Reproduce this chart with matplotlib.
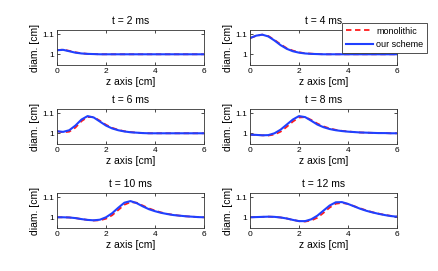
import matplotlib
matplotlib.use('Agg')
import matplotlib.pyplot as plt
import numpy as np

plt.rcParams['font.family'] = ['Liberation Sans', 'DejaVu Sans']

z = np.arange(25) * 0.25

times = [2, 4, 6, 8, 10, 12]

# our scheme (blue)
ours_2 = [1.020, 1.022, 1.015, 1.008, 1.004, 1.002, 1.001, 1.000, 1.000, 1.000, 1.000, 1.000, 1.000,
          1.000, 1.000, 1.000, 1.000, 1.000, 1.000, 1.000, 1.000, 1.000, 1.000, 1.000, 1.000]
ours_4 = [1.080, 1.092, 1.097, 1.088, 1.068, 1.045, 1.027, 1.015, 1.008, 1.004, 1.002, 1.001, 1.000,
          1.000, 1.000, 1.000, 1.000, 1.000, 1.000, 1.000, 1.000, 1.000, 1.000, 1.000, 1.000]
ours_6 = [1.010, 1.007, 1.015, 1.038, 1.068, 1.085, 1.078, 1.058, 1.038, 1.024, 1.015, 1.009, 1.005,
          1.003, 1.001, 1.000, 1.000, 1.000, 1.000, 1.000, 1.000, 1.000, 1.000, 1.000, 1.000]
ours_8 = [0.993, 0.992, 0.990, 0.991, 1.000, 1.018, 1.043, 1.068, 1.085, 1.080, 1.062, 1.043, 1.030,
          1.021, 1.015, 1.011, 1.008, 1.006, 1.004, 1.003, 1.002, 1.001, 1.001, 1.000, 1.000]
ours_10 = [1.000, 1.000, 0.999, 0.996, 0.991, 0.987, 0.985, 0.988, 1.000, 1.020, 1.047, 1.072, 1.080,
           1.070, 1.054, 1.040, 1.030, 1.022, 1.016, 1.011, 1.008, 1.005, 1.003, 1.001, 1.000]
ours_12 = [1.000, 1.001, 1.002, 1.003, 1.002, 0.999, 0.994, 0.987, 0.981, 0.981, 0.990, 1.008, 1.033,
           1.058, 1.074, 1.075, 1.066, 1.054, 1.042, 1.032, 1.024, 1.017, 1.011, 1.006, 1.003]

# monolithic (red dashed)
mono_2 = [1.020, 1.023, 1.017, 1.010, 1.005, 1.002, 1.001, 1.000, 1.000, 1.000, 1.000, 1.000, 1.000,
          1.000, 1.000, 1.000, 1.000, 1.000, 1.000, 1.000, 1.000, 1.000, 1.000, 1.000, 1.000]
mono_4 = [1.080, 1.091, 1.097, 1.090, 1.071, 1.049, 1.030, 1.018, 1.010, 1.005, 1.003, 1.001, 1.000,
          1.000, 1.000, 1.000, 1.000, 1.000, 1.000, 1.000, 1.000, 1.000, 1.000, 1.000, 1.000]
mono_6 = [1.010, 1.005, 1.008, 1.028, 1.060, 1.080, 1.080, 1.062, 1.042, 1.027, 1.017, 1.010, 1.006,
          1.003, 1.001, 1.000, 1.000, 1.000, 1.000, 1.000, 1.000, 1.000, 1.000, 1.000, 1.000]
mono_8 = [0.993, 0.992, 0.990, 0.989, 0.994, 1.008, 1.032, 1.058, 1.078, 1.080, 1.066, 1.048, 1.034,
          1.024, 1.017, 1.012, 1.009, 1.006, 1.004, 1.003, 1.002, 1.001, 1.001, 1.000, 1.000]
mono_10 = [1.000, 1.000, 0.999, 0.996, 0.991, 0.987, 0.984, 0.985, 0.993, 1.010, 1.036, 1.062, 1.075,
           1.072, 1.058, 1.044, 1.033, 1.024, 1.017, 1.012, 1.008, 1.005, 1.003, 1.001, 1.000]
mono_12 = [1.000, 1.001, 1.002, 1.003, 1.002, 0.999, 0.994, 0.987, 0.981, 0.979, 0.984, 0.998, 1.022,
           1.048, 1.067, 1.071, 1.066, 1.055, 1.044, 1.034, 1.025, 1.018, 1.012, 1.007, 1.003]

ours = [ours_2, ours_4, ours_6, ours_8, ours_10, ours_12]
mono = [mono_2, mono_4, mono_6, mono_8, mono_10, mono_12]

fig = plt.figure(figsize=(4.38, 2.71), dpi=100)

W, H = 438., 271.
lefts = [57, 250]
bottoms = [65, 144, 228]
aw, ah = 147, 35

for i, t in enumerate(times):
    r, c = divmod(i, 2)
    ax = fig.add_axes([lefts[c] / W, 1 - bottoms[r] / H, aw / W, ah / H])
    l1, = ax.plot(z, mono[i], '--', color='#ff1a1a', lw=1.3, dashes=(3, 2))
    l2, = ax.plot(z, ours[i], '-', color='#2040ff', lw=1.5)
    ax.set_xlim(0, 6)
    ax.set_ylim(0.947, 1.12)
    ax.set_xticks([0, 2, 4, 6])
    ax.set_yticks([1, 1.1])
    ax.set_yticklabels(['1', '1.1'])
    ax.tick_params(direction='in', length=2, width=0.5, labelsize=6, pad=2,
                   top=True, right=True)
    for s in ax.spines.values():
        s.set_linewidth(0.6)
        s.set_color('#333333')
    ax.set_title('t = %d ms' % t, fontsize=7.5, pad=4)
    ax.set_xlabel('z axis [cm]', fontsize=7.5, labelpad=1.5)
    ax.set_ylabel('diam. [cm]', fontsize=7.5, labelpad=2)

leg = fig.legend([l1, l2], ['monolithic', 'our scheme'], loc='upper right',
                 bbox_to_anchor=(427 / W, 1 - 23 / H), fontsize=6.5, frameon=True,
                 fancybox=False, edgecolor='#333333', framealpha=1, borderaxespad=0,
                 handlelength=3, handletextpad=0.4, borderpad=0.4, labelspacing=0.5)
leg.get_frame().set_linewidth(0.6)

plt.savefig('out.png', dpi=100)
